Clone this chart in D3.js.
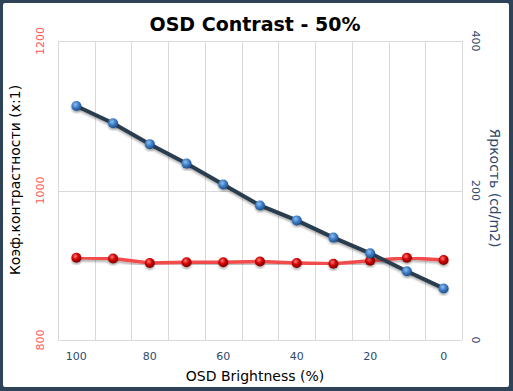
<!DOCTYPE html>
<html><head><meta charset="utf-8">
<script src="https://cdn.jsdelivr.net/npm/d3@7"></script>
<style>body{margin:0;padding:0;background:#fff;}svg{display:block;}</style>
</head><body>
<script>
const categories = ["100","90","80","70","60","50","40","30","20","10","0"];
const xTickLabels = ["100","80","60","40","20","0"];
const contrast = [910, 909, 903, 904, 904, 905, 903, 902, 906, 910, 907];
const brightness = [313, 290, 262, 236, 208, 180, 160, 137, 116, 92, 69];
const leftTicks = [800, 1000, 1200];
const rightTicks = [0, 200, 400];

const W = 513, H = 391;
const svg = d3.select("body").append("svg").attr("width", W).attr("height", H);
const defs = svg.append("defs");
function sphere(id, light, mid, dark) {
  const g = defs.append("radialGradient").attr("id", id).attr("cx", "40%").attr("cy", "35%").attr("r", "65%");
  g.append("stop").attr("offset", "0%").attr("stop-color", light);
  g.append("stop").attr("offset", "50%").attr("stop-color", mid);
  g.append("stop").attr("offset", "100%").attr("stop-color", dark);
}
sphere("gBlue", "#8fc0f0", "#3f7fc8", "#1f4f8a");
sphere("gRed", "#ff7a7a", "#d40000", "#7a0000");
const f = defs.append("filter").attr("id", "sh").attr("x", "-10%").attr("y", "-10%").attr("width", "120%").attr("height", "130%");
f.append("feDropShadow").attr("dx", 0).attr("dy", 2).attr("stdDeviation", 1.2).attr("flood-color", "#000").attr("flood-opacity", 0.3);

svg.append("rect").attr("width", W).attr("height", H).attr("fill", "#2f4358");
svg.append("rect").attr("x", 3).attr("y", 3).attr("width", W - 7).attr("height", H - 7).attr("rx", 2).attr("fill", "#fff");

const L = 58, R = 462, T = 41, B = 340;
const x = d3.scaleBand().domain(categories).range([L, R]);
const yL = d3.scaleLinear().domain([800, 1200]).range([B, T]);
const yR = d3.scaleLinear().domain([0, 400]).range([B, T]);

// grid
const grid = svg.append("g").attr("stroke", "#d9d9d9").attr("stroke-width", 1).attr("shape-rendering", "crispEdges");
categories.forEach(c => {
  const xx = Math.round(x(c)) + 0.5;
  grid.append("line").attr("x1", xx).attr("x2", xx).attr("y1", T).attr("y2", B);
});
grid.append("line").attr("x1", R + 0.5).attr("x2", R + 0.5).attr("y1", T).attr("y2", B);
leftTicks.forEach(v => {
  const yy = Math.round(yL(v)) + 0.5;
  grid.append("line").attr("x1", L).attr("x2", R).attr("y1", yy).attr("y2", yy);
});

const font = "Tahoma, 'DejaVu Sans', Verdana, sans-serif";
// title
svg.append("text").attr("x", 255).attr("y", 31).attr("text-anchor", "middle")
  .attr("font-family", "'DejaVu Sans', sans-serif").attr("font-weight", "bold").attr("font-size", 19)
  .attr("fill", "#000").text("OSD Contrast - 50%");

// left ticks
leftTicks.forEach(v => {
  svg.append("text").attr("transform", `translate(44,${yL(v)}) rotate(-90)`)
    .attr("text-anchor", "middle").attr("font-family", font).attr("font-size", 11)
    .attr("fill", "#ff5a5a").text(v);
});
// right ticks
rightTicks.forEach(v => {
  svg.append("text").attr("transform", `translate(472,${yR(v)}) rotate(90)`)
    .attr("text-anchor", "middle").attr("font-family", font).attr("font-size", 11)
    .attr("fill", "#2e4a6b").text(v);
});
// x ticks
xTickLabels.forEach(c => {
  svg.append("text").attr("x", x(c) + x.bandwidth() / 2).attr("y", 360)
    .attr("text-anchor", "middle").attr("font-family", font).attr("font-size", 11)
    .attr("fill", "#2e4a6b").text(c);
});
// axis titles
svg.append("text").attr("x", 255).attr("y", 381).attr("text-anchor", "middle")
  .attr("font-family", font).attr("font-size", 14).attr("fill", "#000").text("OSD Brightness (%)");
svg.append("text").attr("transform", `translate(20,180) rotate(-90)`).attr("text-anchor", "middle")
  .attr("font-family", font).attr("font-size", 14).attr("fill", "#000").text("Коэф.контрастности (x:1)");
svg.append("text").attr("transform", `translate(490,188) rotate(90)`).attr("text-anchor", "middle")
  .attr("font-family", font).attr("font-size", 14).attr("fill", "#2e4a6b").text("Яркость (cd/m2)");

const cx = c => x(c) + x.bandwidth() / 2;
const lineL = d3.line().x((d, i) => cx(categories[i])).y(d => yL(d));
const lineR = d3.line().x((d, i) => cx(categories[i])).y(d => yR(d));
svg.append("path").attr("d", lineL(contrast)).attr("fill", "none").attr("stroke", "#f24b4b")
  .attr("stroke-width", 3.5).attr("filter", "url(#sh)");
svg.append("g").selectAll("circle").data(contrast).join("circle")
  .attr("cx", (d, i) => cx(categories[i])).attr("cy", d => yL(d)).attr("r", 5)
  .attr("fill", "url(#gRed)").attr("filter", "url(#sh)");
svg.append("path").attr("d", lineR(brightness)).attr("fill", "none").attr("stroke", "#2c3e50")
  .attr("stroke-width", 4).attr("filter", "url(#sh)");
svg.append("g").selectAll("circle").data(brightness).join("circle")
  .attr("cx", (d, i) => cx(categories[i])).attr("cy", d => yR(d)).attr("r", 5)
  .attr("fill", "url(#gBlue)").attr("filter", "url(#sh)");
</script>
</body></html>
